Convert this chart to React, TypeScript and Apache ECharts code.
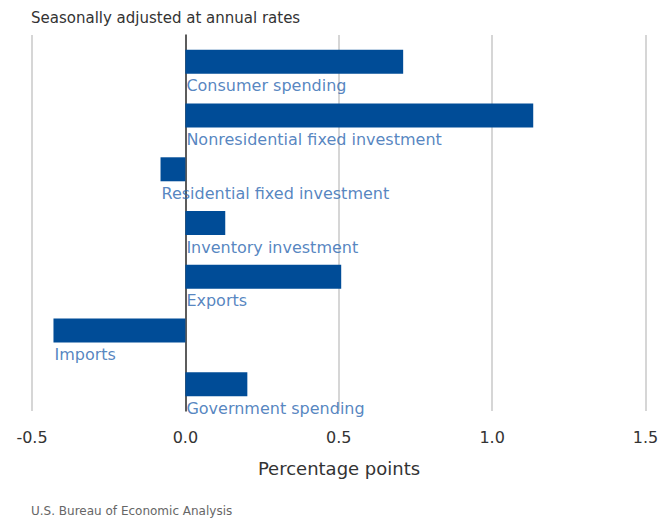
import React, { useEffect, useRef } from "react";
import * as echarts from "echarts";

const categories = [
  "Consumer spending",
  "Nonresidential fixed investment",
  "Residential fixed investment",
  "Inventory investment",
  "Exports",
  "Imports",
  "Government spending",
];
const values = [0.71, 1.134, -0.081, 0.13, 0.508, -0.43, 0.202];
const tickLabels = ["-0.5", "0.0", "0.5", "1.0", "1.5"];
const titleText = "Seasonally adjusted at annual rates";
const axisTitle = "Percentage points";
const sourceText = "U.S. Bureau of Economic Analysis";

const FONT = "'DejaVu Sans', 'Open Sans', sans-serif";

export default function App() {
  const ref = useRef<HTMLDivElement>(null);
  useEffect(() => {
    if (!ref.current) return;
    const chart = echarts.init(ref.current, undefined, { renderer: "svg" });
    chart.setOption({
      animation: false,
      backgroundColor: "#ffffff",
      textStyle: { fontFamily: FONT },
      graphic: [
        {
          type: "text",
          x: 23,
          y: 10,
          style: { text: titleText, fill: "#333", font: `15px ${FONT}`, verticalAlign: "middle" },
        },
        {
          type: "text",
          x: 331,
          y: 460,
          style: {
            text: axisTitle,
            fill: "#333",
            font: `18px ${FONT}`,
            align: "center",
            verticalAlign: "middle",
          },
        },
        {
          type: "text",
          x: 23,
          y: 503,
          style: { text: sourceText, fill: "#666", font: `12px ${FONT}`, verticalAlign: "middle" },
        },
      ],
      grid: { left: 24, right: 26.5, top: 27, height: 376, containLabel: false },
      xAxis: {
        type: "value",
        min: -0.5,
        max: 1.5,
        interval: 0.5,
        axisLine: { show: false },
        axisTick: { show: false },
        splitLine: { show: true, lineStyle: { color: "#c8c8c8", width: 1.5 } },
        axisLabel: {
          color: "#333",
          fontSize: 16,
          fontFamily: FONT,
          margin: 18,
          formatter: (v: number) => {
            const s = v.toFixed(1);
            return tickLabels.includes(s) ? s : "";
          },
        },
      },
      yAxis: {
        type: "category",
        data: categories,
        inverse: true,
        axisLine: { show: true, onZero: true, lineStyle: { color: "#333", width: 1.5 } },
        axisTick: { show: false },
        axisLabel: { show: false },
        splitLine: { show: false },
      },
      series: [
        {
          type: "bar",
          data: values,
          barWidth: 24,
          itemStyle: { color: "#004c97" },
          z: 2,
        },
        {
          type: "scatter",
          symbolSize: 0,
          silent: true,
          z: 3,
          data: values.map((v, i) => [Math.min(0, v), i]),
          label: {
            show: true,
            position: "right",
            distance: 1,
            offset: [0, 24],
            formatter: (p: any) => categories[p.dataIndex],
            color: "#2a66b0",
            fontSize: 16,
            fontFamily: FONT,
          },
        },
      ],
    });
    return () => chart.dispose();
  }, []);
  return <div ref={ref} style={{ width: 664, height: 512 }} />;
}
